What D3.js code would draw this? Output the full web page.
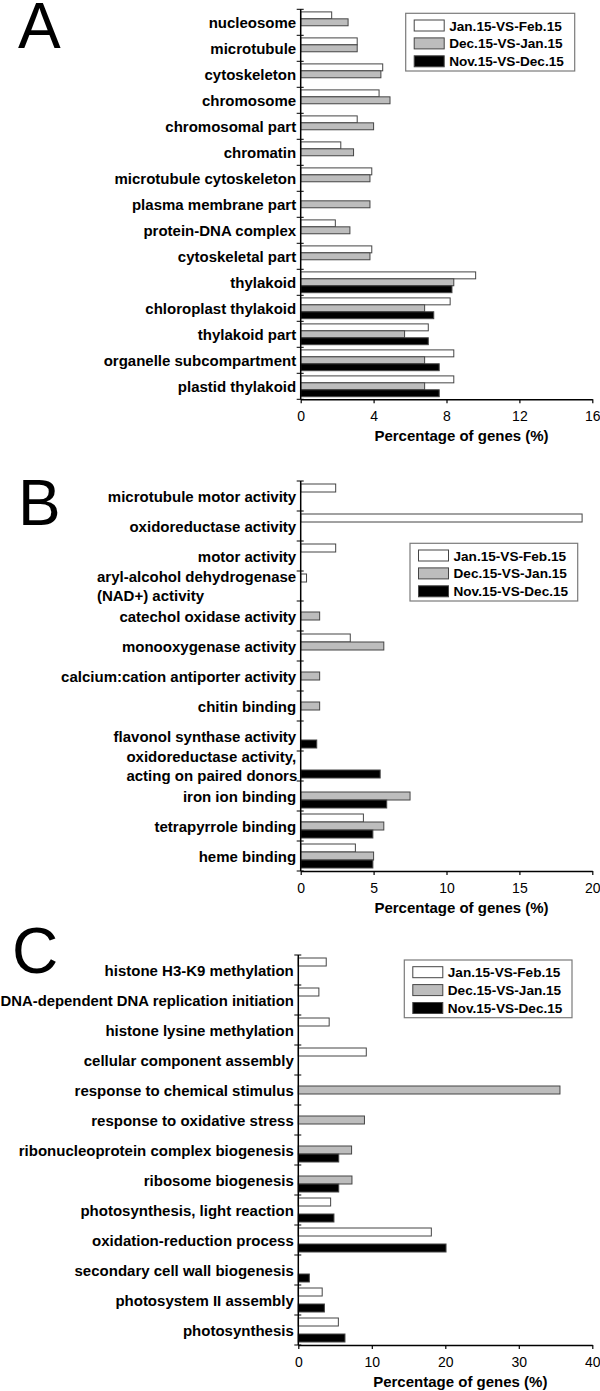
<!DOCTYPE html>
<html>
<head>
<meta charset="utf-8">
<script src="https://cdn.jsdelivr.net/npm/d3@7"></script>
<style>
  html, body { margin: 0; padding: 0; background: #fff; }
  svg { display: block; }
  text { font-family: "Liberation Sans", Arial, Helvetica, sans-serif; fill: #000; }
</style>
</head>
<body>
<svg id="chart" width="600" height="1391"></svg>
<script>
// ---------------- DATA ----------------
const seriesNames = ["Jan.15-VS-Feb.15", "Dec.15-VS-Jan.15", "Nov.15-VS-Dec.15"];

// Panel A
const categoriesA = ["nucleosome", "microtubule", "cytoskeleton", "chromosome", "chromosomal part",
  "chromatin", "microtubule cytoskeleton", "plasma membrane part", "protein-DNA complex",
  "cytoskeletal part", "thylakoid", "chloroplast thylakoid", "thylakoid part",
  "organelle subcompartment", "plastid thylakoid"];
const janFebA = [1.7, 3.1, 4.5, 4.3, 3.1, 2.2, 3.9, null, 1.9, 3.9, 9.6, 8.2, 7.0, 8.4, 8.4];
const decJanA = [2.6, 3.1, 4.4, 4.9, 4.0, 2.9, 3.8, 3.8, 2.7, 3.8, 8.4, 6.8, 5.7, 6.8, 6.8];
const novDecA = [null, null, null, null, null, null, null, null, null, null, 8.3, 7.3, 7.0, 7.6, 7.6];
const ticksA = [0, 4, 8, 12, 16];

// Panel B
const categoriesB = ["microtubule motor activity", "oxidoreductase activity", "motor activity",
  "aryl-alcohol dehydrogenase\n(NAD+) activity", "catechol oxidase activity",
  "monooxygenase activity", "calcium:cation antiporter activity", "chitin binding",
  "flavonol synthase activity", "oxidoreductase activity,\nacting on paired donors",
  "iron ion binding", "tetrapyrrole binding", "heme binding"];
const janFebB = [2.4, 19.3, 2.4, 0.4, null, 3.4, null, null, null, null, null, 4.3, 3.75];
const decJanB = [null, null, null, null, 1.3, 5.7, 1.3, 1.3, null, null, 7.5, 5.7, 5.0];
const novDecB = [null, null, null, null, null, null, null, null, 1.1, 5.45, 5.9, 4.95, 4.95];
const ticksB = [0, 5, 10, 15, 20];

// Panel C
const categoriesC = ["histone H3-K9 methylation", "DNA-dependent DNA replication initiation",
  "histone lysine methylation", "cellular component assembly", "response to chemical stimulus",
  "response to oxidative stress", "ribonucleoprotein complex biogenesis", "ribosome biogenesis",
  "photosynthesis, light reaction", "oxidation-reduction process",
  "secondary cell wall biogenesis", "photosystem II assembly", "photosynthesis"];
const janFebC = [3.8, 2.8, 4.2, 9.25, null, null, null, null, 4.4, 18.1, null, 3.25, 5.45];
const decJanC = [null, null, null, null, 35.6, 9.0, 7.25, 7.3, null, null, null, null, null];
const novDecC = [null, null, null, null, null, null, 5.5, 5.5, 4.85, 20.1, 1.5, 3.55, 6.35];
const ticksC = [0, 10, 20, 30, 40];

const axisTitle = "Percentage of genes (%)";
const panelLetters = ["A", "B", "C"];

// ---------------- STYLE / LAYOUT ----------------
const fills = ["#ffffff", "#bdbdbd", "#000000"];
const barStroke = "#454545";
const FONT = '"Liberation Sans", Arial, Helvetica, sans-serif';

const svg = d3.select("#chart");

function fitText(t, maxW) {
  const w = t.node().getComputedTextLength();
  if (w > maxW) {
    t.attr("textLength", maxW).attr("lengthAdjust", "spacingAndGlyphs");
    return maxW;
  }
  return w;
}

function drawPanel(p) {
  const g = svg.append("g");
  const x = d3.scaleLinear().domain([p.ticks[0], p.ticks[p.ticks.length - 1]]).range([p.x0, p.x1]);
  const y = d3.scaleBand().domain(p.cats).range([p.y0, p.y1]).padding(0);
  const bw = y.bandwidth();
  const pad = bw * 0.1;
  const ys = d3.scaleBand().domain([0, 1, 2]).range([pad, bw - pad]).padding(0);

  const series = [p.s0, p.s1, p.s2];
  const rows = [];
  p.cats.forEach((c, i) => {
    series.forEach((arr, s) => {
      if (arr[i] != null) rows.push({ cat: c, s: s, v: arr[i] });
    });
  });

  // bars
  g.selectAll("rect.bar").data(rows).join("rect")
    .attr("class", "bar")
    .attr("x", x(0))
    .attr("y", d => y(d.cat) + ys(d.s))
    .attr("width", d => x(d.v) - x(0))
    .attr("height", ys.bandwidth())
    .attr("fill", d => fills[d.s])
    .attr("stroke", barStroke)
    .attr("stroke-width", 1);

  // y axis line and ticks at category boundaries
  const bounds = p.cats.map(c => y(c)).concat([y.range()[1]]);
  g.append("line")
    .attr("x1", x(0)).attr("x2", x(0))
    .attr("y1", p.y0).attr("y2", p.y1)
    .attr("stroke", "#000").attr("stroke-width", 1.5);
  g.selectAll("line.ytick").data(bounds).join("line")
    .attr("class", "ytick")
    .attr("x1", x(0) - 4).attr("x2", x(0) + 3)
    .attr("y1", d => d).attr("y2", d => d)
    .attr("stroke", "#000").attr("stroke-width", 1);

  // x axis
  const xAxis = d3.axisBottom(x).tickValues(p.ticks).tickSizeInner(4).tickSizeOuter(0).tickPadding(6);
  const ax = g.append("g").attr("transform", `translate(0,${p.y1})`).call(xAxis);
  ax.select(".domain").attr("stroke", "#000").attr("stroke-width", 1.5);
  ax.selectAll(".tick line").attr("stroke", "#000").attr("stroke-width", 1.2);
  ax.selectAll(".tick text")
    .attr("font-family", FONT).attr("font-size", 14).attr("fill", "#000")
    .attr("dy", null).attr("y", 21.5);

  // axis title
  g.append("text")
    .attr("x", (p.x0 + p.x1) / 2 + 15)
    .attr("y", p.y1 + 42)
    .attr("text-anchor", "middle")
    .attr("font-size", 15).attr("font-weight", "bold")
    .text(axisTitle);

  // category labels
  const lx = x(0) - 4.5;
  p.cats.forEach(c => {
    const cy = y(c) + bw / 2;
    const lines = c.split("\n");
    if (lines.length === 1) {
      const t = g.append("text")
        .attr("x", lx).attr("y", cy + 5.5)
        .attr("text-anchor", "end")
        .attr("font-size", 15).attr("font-weight", "bold")
        .text(c);
      fitText(t, lx - 0.5);
    } else {
      const t1 = g.append("text")
        .attr("x", lx).attr("y", cy - 9.7 + 5.5)
        .attr("text-anchor", "end")
        .attr("font-size", 15).attr("font-weight", "bold")
        .text(lines[0]);
      const w = fitText(t1, lx - 0.5);
      g.append("text")
        .attr("x", lx - w).attr("y", cy + 9.7 + 5.5)
        .attr("text-anchor", "start")
        .attr("font-size", 15).attr("font-weight", "bold")
        .text(lines[1]);
    }
  });

  // legend
  const L = p.legend;
  g.append("rect")
    .attr("x", L.x).attr("y", L.y).attr("width", L.w).attr("height", L.h)
    .attr("fill", "#fff").attr("stroke", "#7a7a7a").attr("stroke-width", 1.2);
  seriesNames.forEach((name, s) => {
    const cy = L.y + 12.2 + s * 17.9;
    g.append("rect")
      .attr("x", L.x + 8.5).attr("y", cy - 5.5).attr("width", 30).attr("height", 11)
      .attr("fill", fills[s]).attr("stroke", barStroke).attr("stroke-width", 1);
    g.append("text")
      .attr("x", L.x + 43.5).attr("y", cy + 5)
      .attr("font-size", 13.6).attr("font-weight", "bold")
      .text(name);
  });

  // panel letter
  svg.append("text")
    .attr("x", p.letter.x).attr("y", p.letter.y)
    .attr("font-size", 64)
    .text(p.letter.t);
}

drawPanel({
  cats: categoriesA, s0: janFebA, s1: decJanA, s2: novDecA, ticks: ticksA,
  x0: 300.7, x1: 592.3, y0: 9.3, y1: 399.3,
  legend: { x: 405.7, y: 13.3, w: 169, h: 57.7 },
  letter: { t: panelLetters[0], x: 18, y: 47.5 }
});
drawPanel({
  cats: categoriesB, s0: janFebB, s1: decJanB, s2: novDecB, ticks: ticksB,
  x0: 300.7, x1: 592.3, y0: 481, y1: 871,
  legend: { x: 410, y: 543.3, w: 167.7, h: 57.7 },
  letter: { t: panelLetters[1], x: 18, y: 525 }
});
drawPanel({
  cats: categoriesC, s0: janFebC, s1: decJanC, s2: novDecC, ticks: ticksC,
  x0: 298.3, x1: 592.3, y0: 955, y1: 1345,
  legend: { x: 404.3, y: 960, w: 167.7, h: 57.7 },
  letter: { t: panelLetters[2], x: 12, y: 973 }
});
</script>
</body>
</html>
